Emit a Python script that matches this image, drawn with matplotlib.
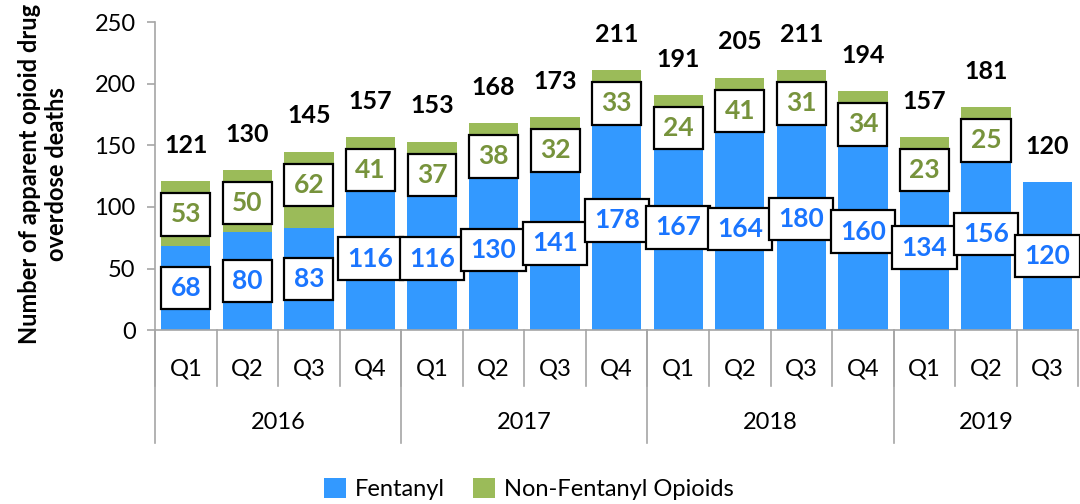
import matplotlib
matplotlib.use("Agg")
import matplotlib.pyplot as plt
import matplotlib.transforms as mtransforms

# data
quarters = ["Q1", "Q2", "Q3", "Q4", "Q1", "Q2", "Q3", "Q4",
            "Q1", "Q2", "Q3", "Q4", "Q1", "Q2", "Q3"]
years = ["2016", "2017", "2018", "2019"]
year_sizes = [4, 4, 4, 3]
fentanyl = [68, 80, 83, 116, 116, 130, 141, 178, 167, 164, 180, 160, 134, 156, 120]
non_fentanyl = [53, 50, 62, 41, 37, 38, 32, 33, 24, 41, 31, 34, 23, 25, 0]

BLUE = "#3399FF"
GREEN = "#9BBB59"
BLUE_TXT = "#1A75FF"
GREEN_TXT = "#77933C"
GRAY = "#A6A6A6"

plt.rcParams["font.family"] = ["Lato", "DejaVu Sans"]

fig = plt.figure(figsize=(10.8, 5.04), dpi=100)
ax = fig.add_axes([0.1435, 0.345, 0.855, 0.611])

x = list(range(len(quarters)))
totals = [f + n for f, n in zip(fentanyl, non_fentanyl)]

ax.bar(x, fentanyl, width=0.8, color=BLUE, label="Fentanyl")
ax.bar(x, non_fentanyl, width=0.8, bottom=fentanyl, color=GREEN,
       label="Non-Fentanyl Opioids")

box = dict(boxstyle="square,pad=0.35", facecolor="white", edgecolor="black", linewidth=1.6)
for i in x:
    ax.text(i, fentanyl[i] / 2, str(fentanyl[i]), ha="center", va="center",
            fontsize=19, fontweight="bold", color=BLUE_TXT, bbox=box)
    if non_fentanyl[i] > 0:
        ax.text(i, totals[i] - 27, str(non_fentanyl[i]), ha="center", va="center",
                fontsize=19, fontweight="bold", color=GREEN_TXT, bbox=box)
    ax.text(i, totals[i] + 29, str(totals[i]), ha="center", va="center",
            fontsize=18, fontweight="bold", color="black")

ax.set_xlim(-0.5, len(quarters) - 0.5)
ax.set_ylim(0, 250)
ax.set_yticks(range(0, 251, 50))
ax.tick_params(axis="y", labelsize=17, color=GRAY, length=6, width=1.2, pad=8)
ax.set_xticks([])
for s in ["top", "right"]:
    ax.spines[s].set_visible(False)
ax.spines["left"].set_color(GRAY)
ax.spines["bottom"].set_color(GRAY)
ax.spines["left"].set_linewidth(1.2)
ax.spines["bottom"].set_linewidth(1.2)

# two-level category axis
trans = mtransforms.blended_transform_factory(ax.transData, ax.transAxes)
for i, q in enumerate(quarters):
    ax.text(i, -0.125, q, transform=trans, ha="center", va="center", fontsize=17)
for i in range(len(quarters) + 1):
    ax.plot([i - 0.5, i - 0.5], [0, -0.18], transform=trans, color=GRAY,
            lw=1.2, clip_on=False)
start = 0
for y, n in zip(years, year_sizes):
    ax.text(start + n / 2 - 0.5, -0.3, y, transform=trans, ha="center",
            va="center", fontsize=17)
    ax.plot([start - 0.5, start - 0.5], [0, -0.365], transform=trans,
            color=GRAY, lw=1.2, clip_on=False)
    start += n

fig.text(0.04, 0.655, "Number of apparent opioid drug\noverdose deaths",
         rotation=90, ha="center", va="center", fontsize=17,
         fontweight="bold", linespacing=1.2)

fig.legend(loc="lower center", bbox_to_anchor=(0.49, -0.035), ncol=2,
           frameon=False, fontsize=17, handlelength=0.9, handleheight=0.9,
           handletextpad=0.4, columnspacing=1.2)

fig.savefig("out.png", dpi=100)
